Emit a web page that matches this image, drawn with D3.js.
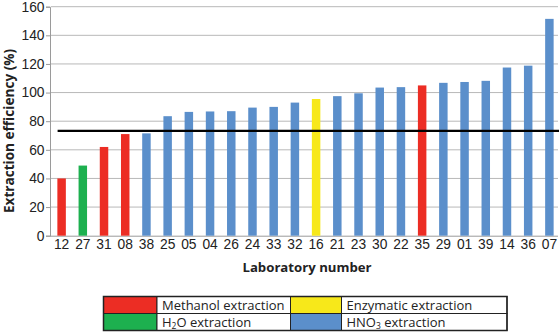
<!DOCTYPE html>
<html>
<head>
<meta charset="utf-8">
<script src="https://cdn.jsdelivr.net/npm/d3@7"></script>
<style>
  html, body { margin: 0; padding: 0; background: #fff; }
  svg { display: block; font-family: "Open Sans", "Noto Sans", sans-serif; }
</style>
</head>
<body>
<svg id="chart" width="560" height="332"></svg>
<script>
// Laboratory numbers, in the order plotted
const labs = ["12","27","31","08","38","25","05","04","26","24","33","32","16","21","23","30","22","35","29","01","39","14","36","07"];
// Extraction efficiency (%) per laboratory
const efficiency = [40,49,62,71,71.5,83.5,86.5,86.8,87,89.5,90,93,95.5,97.5,99.5,103.5,103.8,105,106.8,107.4,108.2,117.5,118.8,151.5];
// Extraction method per laboratory
const method = ["M","W","M","M","N","N","N","N","N","N","N","N","E","N","N","N","N","M","N","N","N","N","N","N"];
// Reference level drawn across the chart
const referenceLevel = [73.2];
const yTicks = [0,20,40,60,80,100,120,140,160];

const methodKeys = ["M","E","W","N"];
const methodNames = ["Methanol extraction","Enzymatic extraction","H2O extraction","HNO3 extraction"];
const methodColors = ["#ec2d24","#f7e81a","#1db04f","#5b8fcb"];

const data = labs.map((l, i) => ({ lab: l, value: efficiency[i], method: method[i] }));

const svg = d3.select("#chart");
const m = { left: 51, right: 0, top: 6.7, bottom: 96.3 };
const W = 560, H = 332;

const x = d3.scaleBand().domain(labs).range([m.left, W - m.right]).paddingInner(0.6).paddingOuter(0.3);
const y = d3.scaleLinear().domain([0, 160]).range([H - m.bottom, m.top]);
const color = d3.scaleOrdinal().domain(methodKeys).range(methodColors);

// Horizontal grid lines
svg.append("g")
  .selectAll("line")
  .data(yTicks.filter(t => t > 0))
  .join("line")
  .attr("x1", m.left).attr("x2", W - 2)
  .attr("y1", d => y(d)).attr("y2", d => y(d))
  .attr("stroke", "#b8b8b8").attr("stroke-width", 1);

// Y axis
const yAxis = svg.append("g")
  .attr("transform", `translate(${m.left - 1},0)`)
  .call(d3.axisLeft(y).tickValues(yTicks).tickSize(4).tickPadding(1.5));
yAxis.select(".domain").attr("stroke", "#9a9a9a");
yAxis.selectAll(".tick line").attr("stroke", "#9a9a9a");
yAxis.selectAll("text").attr("font-size", 13.8).attr("fill", "#222");

// X axis baseline and labels
const xAxis = svg.append("g")
  .attr("transform", `translate(0,${y(0)})`)
  .call(d3.axisBottom(x).tickSize(0).tickPadding(4));
xAxis.select(".domain").attr("stroke", "#9a9a9a").attr("d", `M${m.left - 1},0.5H${W - 2}`);
xAxis.selectAll("text").attr("font-size", 13.8).attr("fill", "#222");

// Bars
svg.append("g")
  .selectAll("rect")
  .data(data)
  .join("rect")
  .attr("x", d => x(d.lab))
  .attr("width", x.bandwidth())
  .attr("y", d => y(d.value))
  .attr("height", d => y(0) - y(d.value))
  .attr("fill", d => color(d.method));

// Reference line
svg.append("g")
  .selectAll("line")
  .data(referenceLevel)
  .join("line")
  .attr("x1", x(labs[0]) + x.bandwidth() / 2 - 4)
  .attr("x2", W - 1)
  .attr("y1", d => y(d)).attr("y2", d => y(d))
  .attr("stroke", "#000").attr("stroke-width", 2.2);

// Axis titles
svg.append("text")
  .attr("x", 307).attr("y", 272)
  .attr("text-anchor", "middle")
  .attr("font-size", 13.2).attr("font-weight", "bold").attr("fill", "#222")
  .text("Laboratory number");

svg.append("text")
  .attr("transform", "translate(14.3,131) rotate(-90)")
  .attr("text-anchor", "middle")
  .attr("font-size", 13.6).attr("font-weight", "bold").attr("fill", "#222")
  .text("Extraction efficiency (%)");

// Legend table: column edges and two rows
const colX = [103.5, 157, 290.5, 341.5, 507];
const rowY = [296.5, 313.5, 330.5];
const cells = [
  { key: "M", col: 0, row: 0 },
  { key: "E", col: 1, row: 0 },
  { key: "W", col: 0, row: 1 },
  { key: "N", col: 1, row: 1 }
];
const lg = svg.append("g");
cells.forEach(c => {
  const x0 = colX[c.col * 2], x1 = colX[c.col * 2 + 1], x2 = colX[c.col * 2 + 2];
  const y0 = rowY[c.row], y1 = rowY[c.row + 1];
  lg.append("rect").attr("x", x0).attr("y", y0).attr("width", x1 - x0).attr("height", y1 - y0)
    .attr("fill", color(c.key)).attr("stroke", "#222").attr("stroke-width", 1);
  lg.append("rect").attr("x", x1).attr("y", y0).attr("width", x2 - x1).attr("height", y1 - y0)
    .attr("fill", "#fff").attr("stroke", "#222").attr("stroke-width", 1);
  const t = lg.append("text").attr("x", x1 + 5).attr("y", y0 + 13.2)
    .attr("font-size", 13).attr("fill", "#222");
  if (c.key === "W") {
    t.append("tspan").text("H");
    t.append("tspan").attr("font-size", 8.5).attr("dy", 2).text("2");
    t.append("tspan").attr("dy", -2).text("O extraction");
  } else if (c.key === "N") {
    t.append("tspan").text("HNO");
    t.append("tspan").attr("font-size", 8.5).attr("dy", 2).text("3");
    t.append("tspan").attr("dy", -2).text(" extraction");
  } else {
    t.text(methodNames[methodKeys.indexOf(c.key)]);
  }
});
// Outer border of the legend table
lg.append("rect").attr("x", colX[0]).attr("y", rowY[0])
  .attr("width", colX[4] - colX[0]).attr("height", rowY[2] - rowY[0])
  .attr("fill", "none").attr("stroke", "#222").attr("stroke-width", 1.5);
</script>
</body>
</html>
